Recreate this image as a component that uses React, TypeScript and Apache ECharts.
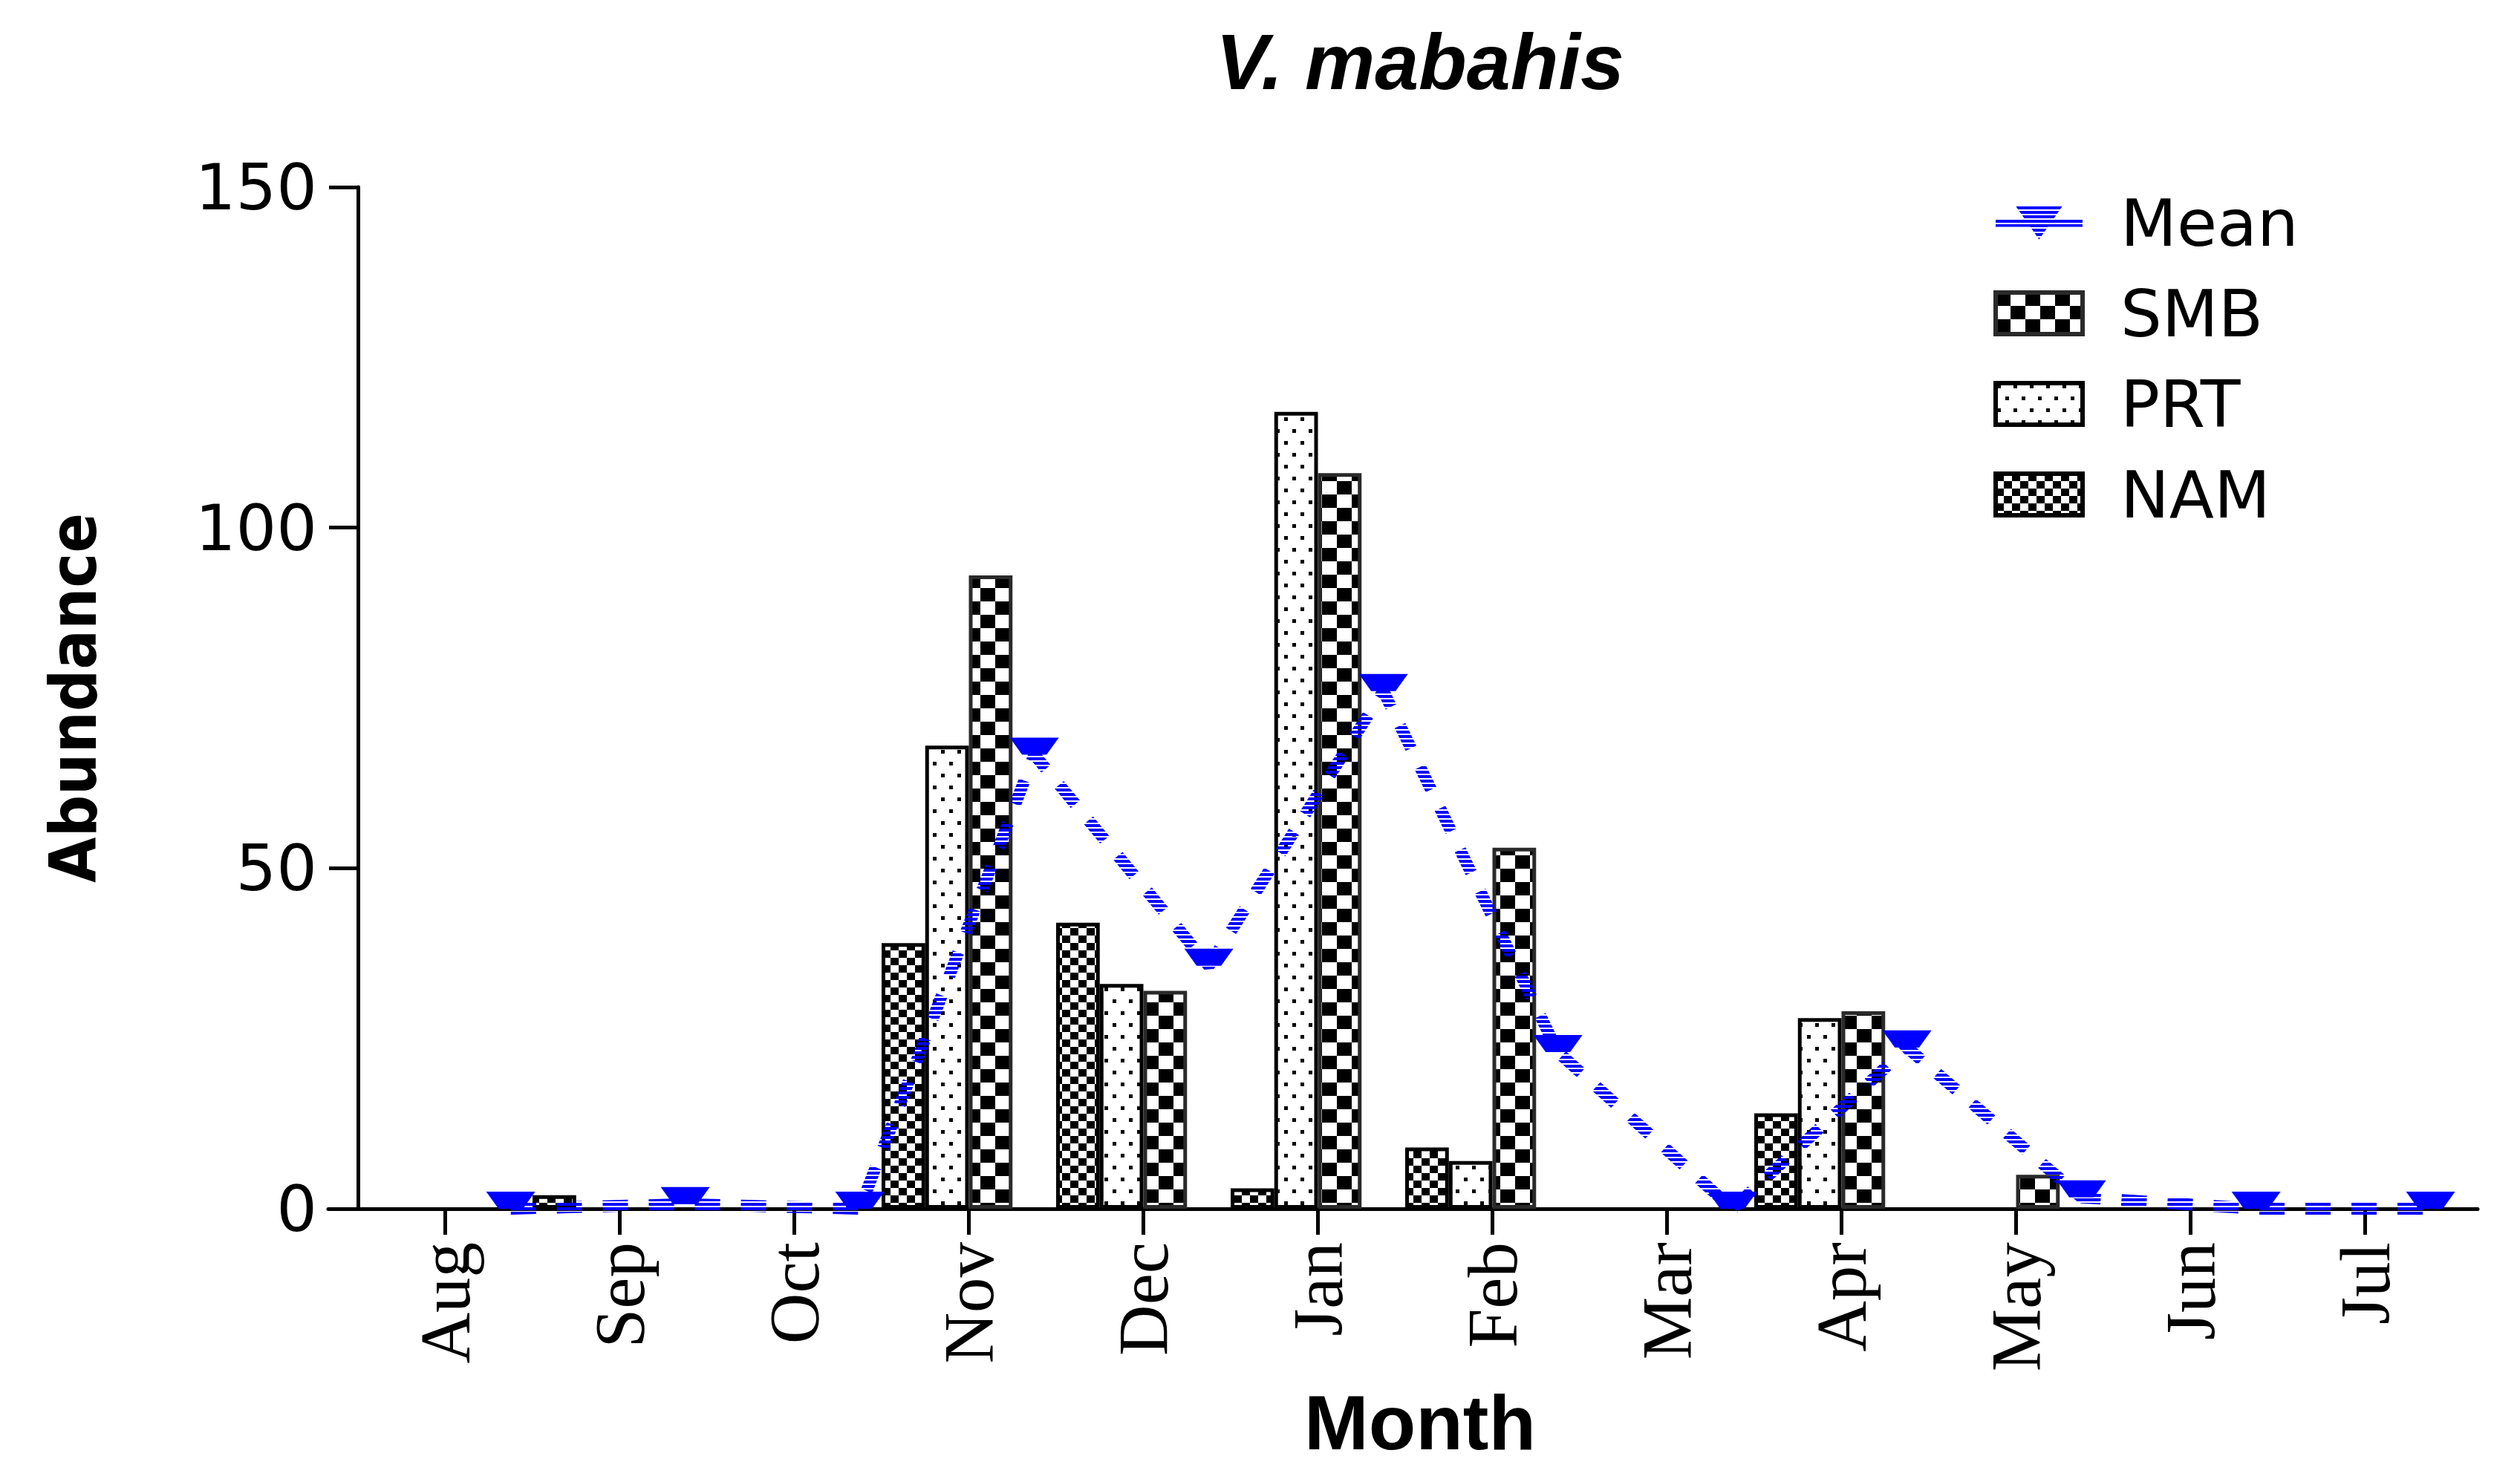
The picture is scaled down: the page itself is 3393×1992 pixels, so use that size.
import * as echarts from 'echarts'
import { useEffect, useRef } from 'react'

// Data
const months = ['Aug', 'Sep', 'Oct', 'Nov', 'Dec', 'Jan', 'Feb', 'Mar', 'Apr', 'May', 'Jun', 'Jul']
const namValues = [0, 2, 0, 39, 42, 3, 9, 0, 14, 0, 0, 0]
const prtValues = [0, 0, 0, 68, 33, 117, 7, 0, 28, 0, 0, 0]
const smbValues = [0, 0, 0, 93, 32, 108, 53, 0, 29, 5, 0, 0]
const meanValues = [0, 0.67, 0, 66.67, 35.67, 76, 23, 0, 23.67, 1.67, 0, 0]
const yTicks = [0, 50, 100, 150]
const legendOrder = ['Mean', 'SMB', 'PRT', 'NAM']

// the mean sits in the 4th (empty) bar slot of each month
const MEAN_SLOT = 0.375
// legend glyph for the mean: a short line with the down triangle on it
const MEAN_ICON = 'path://M0,23H117V33H0Z M27,5L90,5L58.5,50Z'

function makePattern(w: number, h: number, draw: (ctx: CanvasRenderingContext2D) => void) {
  const c = document.createElement('canvas')
  c.width = w
  c.height = h
  const ctx = c.getContext('2d')!
  draw(ctx)
  return { image: c.toDataURL(), imageWidth: w, imageHeight: h, repeat: 'repeat' } as any
}

function checker(sw: number, sh: number) {
  return makePattern(sw * 2, sh * 2, (ctx) => {
    ctx.fillStyle = '#fff'
    ctx.fillRect(0, 0, sw * 2, sh * 2)
    ctx.fillStyle = '#000'
    ctx.fillRect(0, 0, sw, sh)
    ctx.fillRect(sw, sh, sw, sh)
  })
}

// zero bars are not drawn in the original, so drop their outline
const barData = (values: number[]) =>
  values.map((v) => (v === 0 ? { value: v, itemStyle: { borderWidth: 0 } } : v))

function App() {
  const chartRef = useRef<HTMLDivElement>(null)

  useEffect(() => {
    if (!chartRef.current) return
    const chart = echarts.init(chartRef.current, null, { renderer: 'svg' })

    const smbFill = checker(20, 18)
    const namFill = checker(11, 10)
    const prtFill = makePattern(22, 32, (ctx) => {
      ctx.fillStyle = '#fff'
      ctx.fillRect(0, 0, 22, 32)
      ctx.fillStyle = '#000'
      ctx.fillRect(2, 2, 5, 5)
      ctx.fillRect(13, 18, 5, 5)
    })
    const stripes = makePattern(8, 6, (ctx) => {
      ctx.fillStyle = '#0000ff'
      ctx.fillRect(0, 0, 8, 4)
    })

    const barBase = {
      type: 'bar' as const,
      barGap: '0%',
      barCategoryGap: '0%',
      silent: true,
      emphasis: { disabled: true },
    }

    const option: echarts.EChartsOption = {
      animation: false,
      backgroundColor: '#fff',
      title: {
        text: 'V. mabahis',
        left: 1912,
        top: 30,
        padding: 0,
        textAlign: 'center',
        textStyle: {
          fontFamily: 'Liberation Sans',
          fontStyle: 'italic',
          fontWeight: 'bold',
          fontSize: 106,
          color: '#000',
        },
      },
      legend: {
        orient: 'vertical',
        left: 2679,
        top: 251,
        itemWidth: 117,
        itemHeight: 56,
        itemGap: 34,
        selectedMode: false,
        textStyle: {
          fontFamily: 'DejaVu Sans',
          fontSize: 88,
          color: '#000',
          padding: [0, 0, 0, 46],
        },
        data: legendOrder.map((name) =>
          name === 'Mean'
            ? { name, icon: MEAN_ICON, itemStyle: { color: stripes, borderWidth: 0 } }
            : { name, icon: 'rect', itemStyle: { borderWidth: 6, borderColor: name === 'SMB' ? '#2a2a2a' : '#000' } }
        ),
      },
      grid: [
        { left: 482, right: 91, top: 252, bottom: 364 },
        { left: 442, right: 57, top: 252, bottom: 364 },
      ],
      xAxis: [
        {
          type: 'category',
          gridIndex: 0,
          data: months,
          name: 'Month',
          nameLocation: 'middle',
          nameGap: 236,
          nameTextStyle: {
            fontFamily: 'Liberation Sans',
            fontWeight: 'bold',
            fontSize: 104,
            color: '#000',
            padding: [0, 0, 0, 40],
          },
          axisLine: { show: false },
          axisTick: { show: true, alignWithLabel: true, length: 35, lineStyle: { color: '#000', width: 5 } },
          axisLabel: {
            rotate: 90,
            margin: 45,
            fontFamily: 'Liberation Serif',
            fontSize: 95,
            color: '#000',
          },
          splitLine: { show: false },
        },
        {
          type: 'value',
          gridIndex: 0,
          min: -0.5,
          max: months.length - 0.5,
          show: false,
        },
        {
          type: 'value',
          gridIndex: 1,
          min: 0,
          max: 1,
          axisLine: { show: true, onZero: false, lineStyle: { color: '#000', width: 5 } },
          axisTick: { show: false },
          axisLabel: { show: false },
          splitLine: { show: false },
        },
      ],
      yAxis: [
        {
          type: 'value',
          gridIndex: 0,
          min: yTicks[0],
          max: yTicks[yTicks.length - 1],
          interval: yTicks[1] - yTicks[0],
          name: 'Abundance',
          nameLocation: 'middle',
          nameGap: 340,
          nameTextStyle: {
            fontFamily: "'Liberation Sans Narrow', 'DejaVu Sans Condensed', 'Liberation Sans'",
            fontWeight: 'bold',
            fontSize: 88,
            color: '#000',
          },
          axisLine: { show: true, onZero: false, lineStyle: { color: '#000', width: 5 } },
          axisTick: { show: true, length: 39, lineStyle: { color: '#000', width: 5 } },
          axisLabel: { margin: 55, fontFamily: 'DejaVu Sans', fontSize: 86, color: '#000' },
          splitLine: { show: false },
        },
        { type: 'value', gridIndex: 1, min: 0, max: 1, show: false },
      ],
      series: [
        {
          ...barBase,
          name: 'NAM',
          data: barData(namValues),
          itemStyle: { color: namFill, borderColor: '#000', borderWidth: 5 },
        },
        {
          ...barBase,
          name: 'PRT',
          data: barData(prtValues),
          itemStyle: { color: prtFill, borderColor: '#000', borderWidth: 5 },
        },
        {
          ...barBase,
          name: 'SMB',
          data: barData(smbValues),
          itemStyle: { color: smbFill, borderColor: '#2a2a2a', borderWidth: 5 },
        },
        {
          // empty slot that keeps the group off-centre like the original
          ...barBase,
          name: 'slot',
          data: months.map(() => null),
        },
        {
          name: 'Mean',
          type: 'line',
          xAxisIndex: 1,
          yAxisIndex: 0,
          silent: true,
          z: 5,
          emphasis: { disabled: true },
          data: meanValues.map((v, i) => [i + MEAN_SLOT, v]),
          symbol: 'triangle',
          symbolRotate: 180,
          symbolSize: [66, 46],
          showSymbol: true,
          itemStyle: { color: stripes },
          lineStyle: { color: stripes, width: 16, type: [34, 28] },
        },
      ],
    }

    chart.setOption(option)
    return () => {
      chart.dispose()
    }
  }, [])

  return (
    <div
      ref={chartRef}
      style={{ position: 'fixed', left: 0, top: 0, width: '3393px', height: '1992px', background: '#fff' }}
    />
  )
}

export default App
